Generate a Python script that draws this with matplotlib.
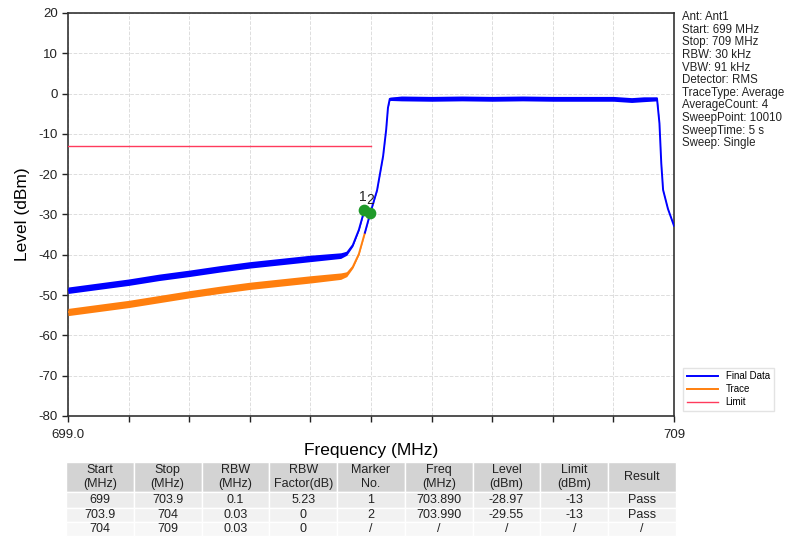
import matplotlib
matplotlib.use('Agg')
import matplotlib.pyplot as plt
import numpy as np

plt.rcParams['font.family'] = ['Liberation Sans', 'DejaVu Sans']
plt.rcParams['axes.unicode_minus'] = False

# Final Data, first segment (699 - 703.9 MHz, RBW factor applied)
blue1_freq = [699.0, 699.5, 700.0, 700.5, 701.0, 701.5, 702.0, 702.5, 703.0, 703.5,
              703.6, 703.7, 703.8, 703.89]
blue1_level = [-48.8, -47.8, -46.8, -45.6, -44.6, -43.5, -42.5, -41.7, -40.9, -40.2,
               -39.6, -37.6, -33.8, -28.97]
blue1_noise = [0.8, 0.8, 0.8, 0.8, 0.8, 0.8, 0.8, 0.8, 0.8, 0.7,
               0.5, 0.3, 0.2, 0.1]

# Final Data, rest of the sweep (703.9 - 709 MHz)
blue2_freq = [703.9, 703.99, 704.1, 704.2, 704.25, 704.28, 704.31, 704.5, 705.0,
              705.5, 706.0, 706.5, 707.0, 707.5, 708.0, 708.3, 708.5, 708.72,
              708.76, 708.79, 708.82, 708.9, 709.0]
blue2_level = [-34.5, -29.55, -24.0, -15.5, -9.0, -3.5, -1.3, -1.2, -1.3,
               -1.2, -1.3, -1.2, -1.3, -1.3, -1.3, -1.6, -1.4, -1.3,
               -7.4, -17.3, -23.9, -28.6, -32.8]
blue2_noise = [0.1, 0.1, 0.1, 0.1, 0.1, 0.1, 0.4, 0.6, 0.6,
               0.6, 0.6, 0.6, 0.6, 0.6, 0.6, 0.6, 0.6, 0.5,
               0.1, 0.1, 0.1, 0.1, 0.1]

# Trace (raw), 699 - 703.9 MHz
trace_freq = [699.0, 699.5, 700.0, 700.5, 701.0, 701.5, 702.0, 702.5, 703.0, 703.5,
              703.6, 703.7, 703.8, 703.9]
trace_level = [-54.2, -53.2, -52.2, -51.0, -49.8, -48.7, -47.7, -46.9, -46.1, -45.3,
               -44.8, -43.0, -39.8, -34.5]
trace_noise = [0.9, 0.9, 0.9, 0.9, 0.9, 0.9, 0.9, 0.9, 0.9, 0.8,
               0.6, 0.3, 0.2, 0.1]

limit_freq = [699.0, 704.0]
limit_level = [-13, -13]

marker_no = ['1', '2']
marker_freq = [703.890, 703.990]
marker_level = [-28.97, -29.55]

info_lines = ['Ant: Ant1', 'Start: 699 MHz', 'Stop: 709 MHz', 'RBW: 30 kHz',
              'VBW: 91 kHz', 'Detector: RMS', 'TraceType: Average',
              'AverageCount: 4', 'SweepPoint: 10010', 'SweepTime: 5 s',
              'Sweep: Single']

table_header = ['Start\n(MHz)', 'Stop\n(MHz)', 'RBW\n(MHz)', 'RBW\nFactor(dB)',
                'Marker\nNo.', 'Freq\n(MHz)', 'Level\n(dBm)', 'Limit\n(dBm)', 'Result']
table_rows = [
    ['699', '703.9', '0.1', '5.23', '1', '703.890', '-28.97', '-13', 'Pass'],
    ['703.9', '704', '0.03', '0', '2', '703.990', '-29.55', '-13', 'Pass'],
    ['704', '709', '0.03', '0', '/', '/', '/', '/', '/'],
]

W, H = 788, 537
fig = plt.figure(figsize=(W / 100, H / 100), dpi=100)
ax = fig.add_axes([68 / W, 1 - 416 / H, (674 - 68) / W, (416 - 13) / H])
ax.set_zorder(2)

blue = '#0000ff'
orange = '#ff7f0e'

# noisy bands
for f, lv, nz, c in [(trace_freq, trace_level, trace_noise, orange),
                     (blue1_freq, blue1_level, blue1_noise, blue),
                     (blue2_freq, blue2_level, blue2_noise, blue)]:
    f = np.array(f)
    lv = np.array(lv)
    nz = np.array(nz)
    ax.fill_between(f, lv - nz, lv + nz, color=c, lw=0, zorder=3)

ax.plot(trace_freq, trace_level, color=orange, lw=1.4, zorder=3, label='Trace')
ax.plot(blue1_freq, blue1_level, color=blue, lw=1.4, zorder=4, label='Final Data')
ax.plot(blue2_freq, blue2_level, color=blue, lw=1.4, zorder=4)
ax.plot(limit_freq, limit_level, color='#ff3b5c', lw=1.0, zorder=3, label='Limit')

ax.scatter(marker_freq, marker_level, s=55, color='#1f9a2a', zorder=5)
for no, f, lv in zip(marker_no, marker_freq, marker_level):
    ax.text(f - 0.03 + (0.03 if no == '2' else 0), lv + 1.5, no, fontsize=10,
            ha='center', va='bottom', color='#222222', zorder=6)

ax.set_xlim(699, 709)
ax.set_ylim(-80, 20)
ax.set_xticks(np.arange(699, 710, 1))
ax.set_xticklabels(['699.0'] + [''] * 9 + ['709'])
ax.set_yticks(np.arange(-80, 21, 10))
ax.tick_params(labelsize=9.5, direction='out', length=4, width=1, colors='#222222')
ax.tick_params(axis='x', pad=5)
ax.grid(True, color='#dddddd', ls='--', lw=0.7)
for s in ax.spines.values():
    s.set_color('#333333')
    s.set_linewidth(1.2)

ax.set_xlabel('Frequency (MHz)', fontsize=12.5, labelpad=2)
ax.set_ylabel('Level (dBm)', fontsize=12.5, labelpad=6)

# legend order: Final Data, Trace, Limit
h, l = ax.get_legend_handles_labels()
order = [l.index('Final Data'), l.index('Trace'), l.index('Limit')]
fig.legend([h[i] for i in order], [l[i] for i in order],
           loc='lower left', bbox_to_anchor=(678 / W, 1 - 416 / H),
           fontsize=7, frameon=True, edgecolor='#dddddd', fancybox=False,
           handlelength=3.2, borderpad=0.4, labelspacing=0.3)

fig.text(682 / W, 1 - 11 / H, '\n'.join(info_lines), fontsize=8.3,
         va='top', ha='left', linespacing=1.07, color='#222222')

# table
tax = fig.add_axes([66 / W, 1 - 536 / H, (676 - 66) / W, (536 - 462) / H])
tax.set_zorder(1)
tax.axis('off')
tbl = tax.table(cellText=[table_header] + table_rows, loc='center',
                cellLoc='center', bbox=[0, 0, 1, 1])
tbl.auto_set_font_size(False)
row_colors = ['#d3d3d3', '#ececec', '#f2f2f2', '#f7f7f7']
heights = [30, 15, 14, 14]
tot = sum(heights)
for (r, c), cell in tbl.get_celld().items():
    cell.set_facecolor(row_colors[r])
    cell.set_edgecolor('white')
    cell.set_linewidth(1.0)
    cell.set_height(heights[r] / tot)
    cell.get_text().set_fontsize(9)
    cell.get_text().set_color('#222222')
    cell.PAD = 0.02

fig.savefig('out.png', dpi=100)
